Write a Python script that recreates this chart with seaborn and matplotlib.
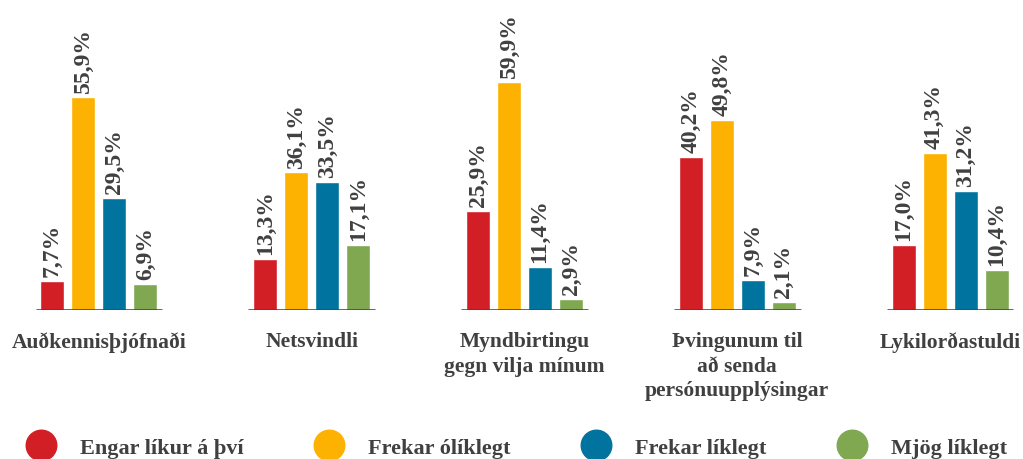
import pandas as pd
import matplotlib
matplotlib.use("Agg")
import matplotlib.pyplot as plt
from matplotlib.lines import Line2D
import seaborn as sns

categories = ["Auðkennisþjófnaði", "Netsvindli", "Myndbirtingu\ngegn vilja mínum",
              "Þvingunum til\nað senda\npersónuupplýsingar", "Lykilorðastuldi"]
responses = ["Engar líkur á því", "Frekar ólíklegt", "Frekar líklegt", "Mjög líklegt"]
engar = [7.7, 13.3, 25.9, 40.2, 17.0]
frekar_olikl = [55.9, 36.1, 59.9, 49.8, 41.3]
frekar_likl = [29.5, 33.5, 11.4, 7.9, 31.2]
mjog = [6.9, 17.1, 2.9, 2.1, 10.4]
colors = ["#D21F26", "#FDB100", "#00749F", "#7FA851"]
text_color = "#404040"

rows = []
for resp, vals in zip(responses, [engar, frekar_olikl, frekar_likl, mjog]):
    for cat, v in zip(categories, vals):
        rows.append({"cat": cat, "resp": resp, "val": v})
df = pd.DataFrame(rows)

sns.set_style("white")
plt.rcParams["font.family"] = ["Liberation Serif", "DejaVu Serif"]
plt.rcParams["font.weight"] = "bold"

fig = plt.figure(figsize=(10.23, 4.60), dpi=100)
ax = fig.add_axes([0, 0.324, 1, 0.676])

sns.barplot(data=df, x="cat", y="val", hue="resp", order=categories, hue_order=responses,
            palette=colors, width=0.583, gap=0.226, legend=False, ax=ax, saturation=1)

for cont in ax.containers:
    labels = [f"{v:.1f}%".replace(".", ",") for v in cont.datavalues]
    ax.bar_label(cont, labels=labels, rotation=90, padding=3.5, fontsize=17,
                 fontweight="bold", color=text_color)

# baseline under each group
for t in range(len(categories)):
    ax.hlines(0, t - 0.298, t + 0.298, color="#3a3a3a", lw=1.8, zorder=5)

ax.set_xlim(-0.465, 4.343)
ax.set_ylim(0, 81.6)
sns.despine(ax=ax, left=True, bottom=True)
ax.set_yticks([])
ax.set_xlabel("")
ax.set_ylabel("")
ax.tick_params(axis="x", length=0, pad=15.5, labelsize=15.5, labelcolor=text_color)
for lab in ax.get_xticklabels():
    lab.set_fontweight("bold")
    lab.set_linespacing(1.3)

handles = [Line2D([], [], marker="o", ls="", markersize=22, color=c) for c in colors]
fig.legend(handles, responses, loc="center left", bbox_to_anchor=(0.0073, 0.024),
           ncol=4, frameon=False, borderpad=0, handlelength=2.0, handletextpad=0.76,
           columnspacing=2.85, prop={"size": 16, "weight": "bold"}, labelcolor=text_color)

fig.savefig("out.png", dpi=100)
